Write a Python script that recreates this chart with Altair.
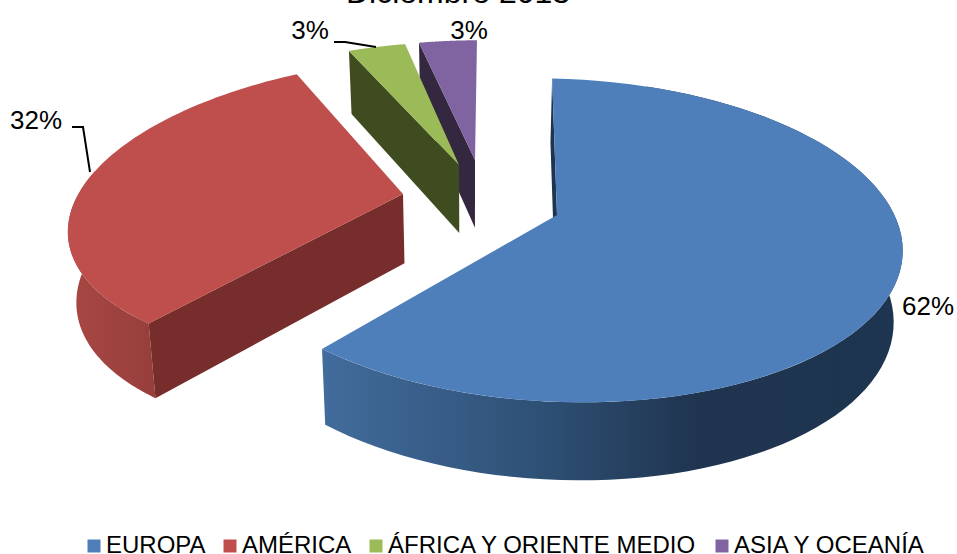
import numpy as np
import altair as alt

# Shares per region and their presentation
regions = ["EUROPA", "AMÉRICA", "ÁFRICA Y ORIENTE MEDIO", "ASIA Y OCEANÍA"]
shares = [62, 32, 3, 3]
top_colors = ["#4E7FBB", "#BE4F4C", "#9BBB59", "#8064A2"]
flat_colors = ["#1D3550", "#772D2B", "#3F4C20", "#33283F"]
title_text = "Diciembre 2013"
label_text = ["62%", "32%", "3%", "3%"]

EXPLODE = 0.235
W, H = 957, 554

edges = np.deg2rad(np.cumsum([0] + shares) * 3.6)
mids = (edges[:-1] + edges[1:]) / 2


def unit(t):
    return np.array([np.sin(t), -np.cos(t)])


apexes = [EXPLODE * (unit(m) - unit(mids[0])) for m in mids]


def rim(i, t):
    return apexes[i] + unit(t)


# Perspective of the tilted pie: plane homographies fitted on the rims, one per slice,
# each leaning mostly on the landmarks of its own slice
landmarks = [
    (0, rim(0, edges[0]), (552, 78)), (0, rim(0, edges[1]), (322, 349)),
    (0, rim(0, np.pi / 2), (901, 235)), (0, rim(0, np.pi), (572, 402)),
    (1, rim(1, edges[1]), (148, 322)), (1, rim(1, edges[2]), (297, 73)), (1, rim(1, 1.5 * np.pi), (70, 218)),
    (2, rim(2, edges[2]), (349, 51)), (2, rim(2, edges[3]), (405, 44)),
    (3, rim(3, edges[3]), (419, 43)), (3, rim(3, edges[4]), (477, 40)),
]


def fit(slice_index):
    rows = []
    for owner, (u, v), (x, y) in landmarks:
        k = 12.0 if owner == slice_index else 1.0
        rows.append([k * c for c in [u, v, 1, 0, 0, 0, -x * u, -x * v, -x]])
        rows.append([k * c for c in [0, 0, 0, u, v, 1, -y * u, -y * v, -y]])
    return np.linalg.svd(np.array(rows))[2][-1].reshape(3, 3)


homographies = [fit(i) for i in range(len(shares))]
tips = [(557, 215), (403, 194), (459, 165), (475, 160)]


def project(i, p):
    q = homographies[i] @ np.array([p[0], p[1], 1.0])
    return (q[0] / q[2], q[1] / q[2])


def drop(p):
    """The point under p on the lower face of the slab."""
    x, y = p
    return (x + (473 - x) * 0.021, y + 63 + (y - 50) * 15 / 352)


def arc(i, a, b, n=80):
    return [project(i, rim(i, t)) for t in np.linspace(a, b, n)]


def feature(points, name):
    ring = [[float(x), float(y)] for x, y in points]
    ring.append(ring[0])
    return {"type": "Feature", "properties": {"name": name},
            "geometry": {"type": "Polygon", "coordinates": [ring]}}


def shape(feats, **mark):
    return (
        alt.Chart(alt.Data(values=feats))
        .mark_geoshape(strokeWidth=0, **mark)
        .project(type="identity", scale=1, translate=[0, 0])
    )


def band(points):
    return points + [drop(p) for p in reversed(points)]


def flat(i, edge):
    a, o = tips[i], project(i, rim(i, edge))
    return [a, o, drop(o), drop(a)]


def ramp(*stops):
    return alt.Gradient(
        gradient="linear", x1=0, x2=1, y1=0, y2=0,
        stops=[alt.GradientStop(offset=o, color=c) for o, c in stops],
    )


layers = []
# Back slices first, each with the cut face that looks towards the viewer
layers.append(shape([feature(flat(3, edges[3]), regions[3])], fill=flat_colors[3]))
layers.append(shape([feature(flat(2, edges[2]), regions[2])], fill=flat_colors[2]))
layers.append(shape([feature(band(arc(1, edges[1], 1.6 * np.pi)), regions[1])],
                    fill=ramp((0, "#A84744"), (0.5, "#A04340"), (1, "#963E3B"))))
layers.append(shape([feature(flat(1, edges[1]), regions[1])], fill=flat_colors[1]))
layers.append(shape([feature(flat(0, edges[0]), regions[0])], fill=flat_colors[0]))
layers.append(shape([feature(band(arc(0, edges[0] + 0.3, edges[1])), regions[0])],
                    fill=ramp((0, "#426C9C"), (0.38, "#2E5075"), (0.65, "#1F344F"), (1, "#1D3550"))))

# Top faces carry the colour scale and so the legend
tops = [feature([tips[i]] + arc(i, edges[i], edges[i + 1]), regions[i]) for i in range(4)]
layers.append(
    shape(tops).encode(
        color=alt.Color(
            "properties.name:N",
            scale=alt.Scale(domain=regions, range=top_colors),
            sort=regions,
            legend=alt.Legend(
                title=None, orient="none", direction="horizontal", columns=4,
                legendX=82, legendY=534, symbolType="square", symbolSize=169,
                symbolStrokeWidth=0, labelFont="Liberation Sans", labelFontSize=24,
                labelColor="#000000", columnPadding=12, labelOffset=0, labelLimit=400,
            ),
        )
    )
)

pixel_x = alt.X("x:Q", scale=alt.Scale(domain=[0, W], range=[0, W]), axis=None)
pixel_y = alt.Y("y:Q", scale=alt.Scale(domain=[0, H], range=[0, H]), axis=None)

# Leader lines of the two labels placed away from their slices
leader_rows = [
    {"id": "a", "o": 0, "x": 72, "y": 127}, {"id": "a", "o": 1, "x": 83, "y": 127}, {"id": "a", "o": 2, "x": 90, "y": 172},
    {"id": "b", "o": 0, "x": 334, "y": 42}, {"id": "b", "o": 1, "x": 345, "y": 42}, {"id": "b", "o": 2, "x": 376, "y": 47},
]
layers.append(
    alt.Chart(alt.Data(values=leader_rows)).mark_line(color="#000000", strokeWidth=2).encode(
        x=pixel_x, y=pixel_y, detail="id:N", order="o:Q"
    )
)

text_rows = [
    {"t": label_text[0], "x": 928, "y": 315},
    {"t": label_text[1], "x": 36, "y": 129},
    {"t": label_text[2], "x": 310, "y": 39},
    {"t": label_text[3], "x": 469, "y": 39},
]
layers.append(
    alt.Chart(alt.Data(values=text_rows)).mark_text(
        font="Liberation Sans", fontSize=26, color="#000000", align="center", baseline="alphabetic"
    ).encode(x=pixel_x, y=pixel_y, text="t:N")
)
layers.append(
    alt.Chart(alt.Data(values=[{"t": title_text, "x": 458, "y": 3}])).mark_text(
        font="Liberation Sans", fontSize=32, color="#000000", align="center", baseline="alphabetic"
    ).encode(x=pixel_x, y=pixel_y, text="t:N")
)

chart = alt.layer(*layers).properties(
    width=W, height=H, padding=0, autosize=alt.AutoSizeParams(type="none"), background="#FFFFFF"
).configure_view(stroke=None)

chart.save("out.html", embed_options={"renderer": "svg", "actions": False})
